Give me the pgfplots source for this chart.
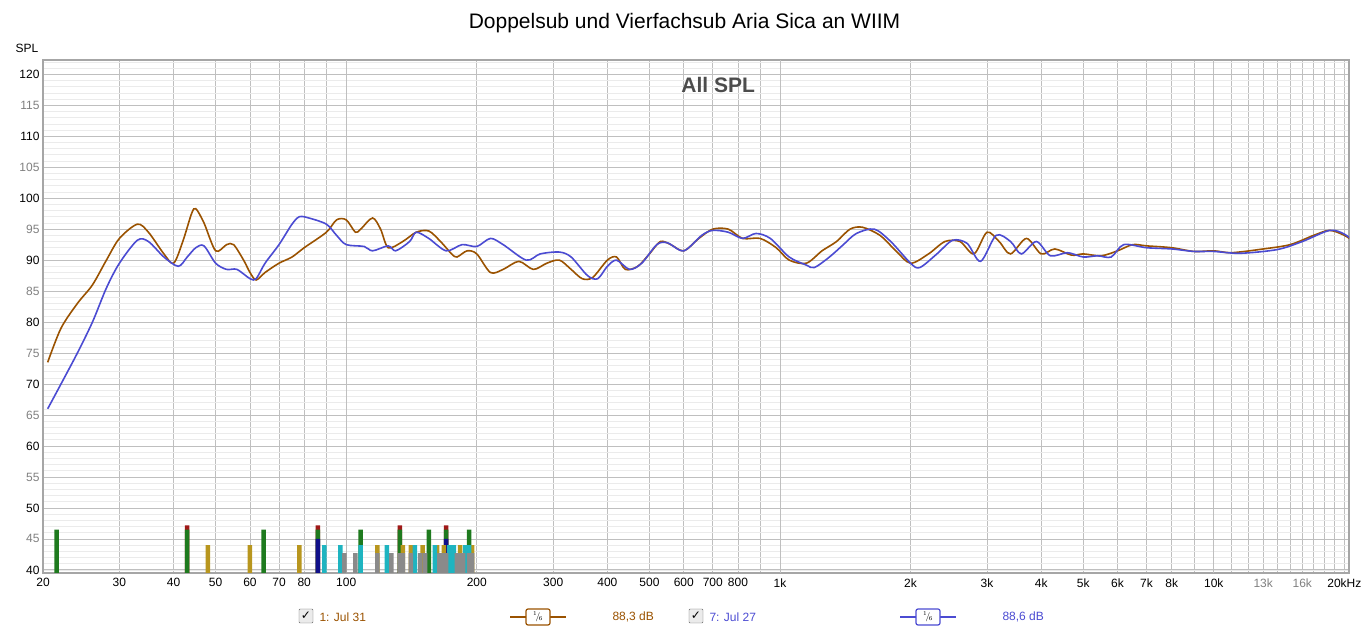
\documentclass[border=0pt]{standalone}
\usepackage{pgfplots}
\pgfplotsset{compat=1.18}
\usepackage{fontspec}
\setmainfont{Liberation Sans}
\newfontfamily\dejavu{DejaVu Sans}
\definecolor{cbrown}{HTML}{9A5200}
\definecolor{cblue}{HTML}{4B4BD2}
\definecolor{bgreen}{HTML}{1E7A1E}
\definecolor{bred}{HTML}{A01818}
\definecolor{bgold}{HTML}{B8961E}
\definecolor{bcyan}{HTML}{1EB4C0}
\definecolor{bgrey}{HTML}{8A8A8A}
\definecolor{bblue}{HTML}{10108A}
\begin{document}
\begin{tikzpicture}[x=1pt,y=1pt]
\path (0,0) rectangle (1369,632);
\node[font=\fontsize{21}{23}\selectfont] at (684.5,609) {Doppelsub und Vierfachsub Aria Sica an WIIM};
\node[font=\fontsize{12}{13}\selectfont] at (27,584) {SPL};
\begin{axis}[
  at={(43pt,59pt)}, anchor=south west, scale only axis,
  width=1306pt, height=513pt,
  xmode=log, xmin=20, xmax=20500, ymin=39.5, ymax=122.3,
  log basis x=10,
  xtick={20,30,40,50,60,70,80,90,100,200,300,400,500,600,700,800,900,1000,2000,3000,4000,5000,6000,7000,8000,9000,10000,11000,12000,13000,14000,15000,16000,17000,18000,19000,20000},
  xticklabels={20,30,40,50,60,70,80,,100,200,300,400,500,600,700,800,,1k,2k,3k,4k,5k,6k,7k,8k,,10k,,,\textcolor{gray}{13k},,,\textcolor{gray}{16k},,,,20kHz},
  ytick={40,45,...,120},
  yticklabels={40,\textcolor{gray}{45},50,\textcolor{gray}{55},60,\textcolor{gray}{65},70,\textcolor{gray}{75},80,\textcolor{gray}{85},90,\textcolor{gray}{95},100,\textcolor{gray}{105},110,\textcolor{gray}{115},120},
  minor ytick={40,...,122},
  extra x ticks={100,1000,10000}, extra x tick labels={},
  extra x tick style={grid style={black!55, line width=0.8pt}},
  grid=both,
  major grid style={black!25, line width=0.8pt},
  minor grid style={black!8, line width=0.6pt},
  tick style={draw=none},
  axis line style={black!35, line width=2pt},
  ticklabel style={font=\fontsize{12}{13}\selectfont},
  xticklabel style={yshift=-2pt},
  clip=true,
]
\node[font=\fontsize{21}{23}\selectfont\bfseries, text=black!70] at (axis cs:720,118.3) {All SPL};
\addplot[ybar, bar width=4.5pt, bar shift=0pt, fill=bred, draw=none] coordinates {(43,47.2)(86,47.2)(133,47.2)(170,47.2)};
\addplot[ybar, bar width=4.5pt, bar shift=0pt, fill=bgreen, draw=none] coordinates {(21.5,46.5)(43,46.5)(64.5,46.5)(86,46.5)(108,46.5)(133,46.5)(155,46.5)(170,46.5)(192,46.5)};
\addplot[ybar, bar width=4.5pt, bar shift=0pt, fill=bblue, draw=none] coordinates {(86,45)(170,45)};
\addplot[ybar, bar width=4.5pt, bar shift=0pt, fill=bgold, draw=none] coordinates {(48,44)(60,44)(78,44)(118,44)(135,44)(141,44)(150,44)(162,44)(168,44)(183,44)(195,44)};
\addplot[ybar, bar width=4.5pt, bar shift=0pt, fill=bcyan, draw=none] coordinates {(89,44)(97,44)(108,44)(124,44)(144,44)(160,44)(173,44)(177,44)(188,44)(192,44)};
\addplot[ybar, bar width=4.5pt, bar shift=0pt, fill=bgrey, draw=none] coordinates {(99,42.7)(105,42.7)(118,42.7)(127,42.7)(133,42.7)(135,42.7)(141,42.7)(148,42.7)(152,42.7)(164,42.7)(166,42.7)(170,42.7)(180,42.7)(183,42.7)(186,42.7)(192,42.7)(195,42.7)};
\addplot[cbrown, line width=1.6pt, smooth, tension=0.5] coordinates {
(20.5,73.5)(22,79)(24,83)(26,86)(28,90)(30,93.5)(33,95.8)(35,94.5)(38,91)(40,89.5)(42,93)(44,97.5)(45,98.3)(47,96)(50,91.5)(53,92.5)(55,92.5)(58,90)(60,88)(62,86.8)(65,88)(70,89.5)(75,90.5)(80,92)(90,94.5)(95,96.5)(100,96.5)(105,94.5)(108,95)(115,96.8)(120,95)(125,92)(135,93)(145,94.5)(155,94.7)(165,93)(175,91)(180,90.5)(190,91.5)(200,91)(215,88)(230,88.5)(250,89.8)(270,88.5)(290,89.5)(310,90)(330,88.5)(350,87)(370,87.2)(400,90)(420,90.5)(440,88.5)(470,89)(500,91)(530,93)(560,92.5)(600,91.5)(650,93.5)(700,95)(760,95)(820,93.5)(900,93.5)(980,92)(1050,90)(1150,89.5)(1250,91.5)(1350,93)(1450,95)(1550,95.3)(1700,94)(1850,91.5)(2000,89.5)(2200,91)(2400,93)(2600,93)(2800,91)(3000,94.5)(3200,93)(3400,91)(3700,93.5)(4000,91)(4300,91.8)(4700,90.8)(5000,91)(5500,90.7)(6000,91.5)(6500,92.5)(7000,92.3)(8000,92)(9000,91.4)(10000,91.5)(11000,91.2)(13000,91.8)(15000,92.5)(17000,94)(18500,94.8)(20000,94)(21000,93)};
\addplot[cblue, line width=1.6pt, smooth, tension=0.5] coordinates {
(20.5,66)(22,70)(24,75)(26,80)(28,85.5)(30,89.5)(33,93.2)(35,93)(38,90.5)(41,89)(43,90.5)(45,92)(47,92.3)(50,89.5)(53,88.5)(56,88.5)(60,87)(62,87)(65,89.5)(70,92.5)(75,95.8)(78,97)(82,96.8)(90,95.8)(95,94)(100,92.5)(110,92.2)(115,91.5)(125,92.3)(130,91.5)(140,93)(145,94.5)(155,93.5)(170,91.5)(185,92.5)(200,92.2)(215,93.5)(230,92.5)(260,90)(280,91)(310,91.3)(330,90.5)(360,87.5)(380,87)(400,89)(420,90)(450,88.5)(480,89.5)(520,92.5)(550,92.8)(600,91.5)(660,94)(700,94.8)(760,94.5)(820,93.5)(880,94.3)(950,93.5)(1050,90.5)(1150,89.2)(1200,88.8)(1300,90.5)(1400,92.5)(1500,94.3)(1650,95)(1800,93)(2000,89.5)(2100,88.8)(2300,91)(2500,93.2)(2700,92.7)(2900,89.8)(3150,94)(3400,93)(3600,91)(3900,93)(4200,90.7)(4600,91.2)(5000,90.5)(5400,90.7)(5800,90.5)(6200,92.5)(7000,92)(8000,91.8)(9000,91.4)(10000,91.4)(11500,91.1)(14000,91.7)(16000,93)(18500,94.8)(20000,94.2)(21000,93)};
\end{axis}
\begin{scope}[font=\fontsize{12}{13}\selectfont]
\draw[black!60, fill=black!8, rounded corners=1pt] (299,9) rectangle (313,23);
\node at (306,16) {\dejavu ✓};
\node[anchor=west, text=cbrown] at (316,15) {1: Jul 31};
\draw[cbrown, line width=1.6pt] (510,15) -- (566,15);
\draw[cbrown, line width=1.2pt, fill=white, rounded corners=2pt] (526,7) rectangle (550,23);
\node[text=black] at (538,15) {\small $^1\!/\!_6$};
\node[anchor=west, text=cbrown] at (609,15) {88,3 dB};
\draw[black!60, fill=black!8, rounded corners=1pt] (689,9) rectangle (703,23);
\node at (696,16) {\dejavu ✓};
\node[anchor=west, text=cblue] at (706,15) {7: Jul 27};
\draw[cblue, line width=1.6pt] (900,15) -- (956,15);
\draw[cblue, line width=1.2pt, fill=white, rounded corners=2pt] (916,7) rectangle (940,23);
\node[text=black] at (928,15) {\small $^1\!/\!_6$};
\node[anchor=west, text=cblue] at (999,15) {88,6 dB};
\end{scope}
\end{tikzpicture}
\end{document}
